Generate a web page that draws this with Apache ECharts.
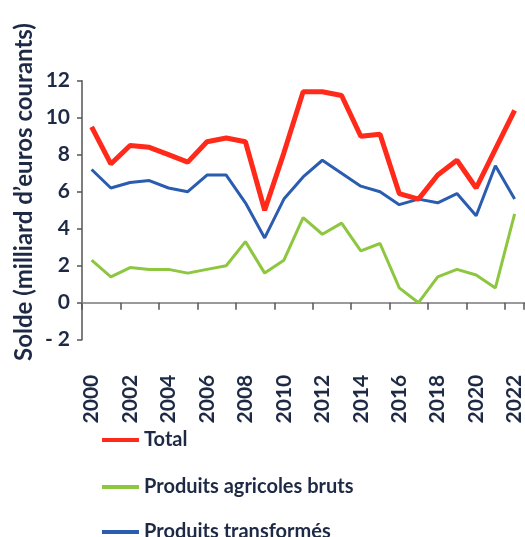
<!DOCTYPE html>
<html>
<head>
<meta charset="utf-8">
<script src="https://cdn.jsdelivr.net/npm/echarts@6/dist/echarts.min.js"></script>
<style>html,body{margin:0;padding:0;background:#fff}#c{width:525px;height:537px}</style>
</head>
<body>
<div id="c"></div>
<script>
const years = ['2000','2001','2002','2003','2004','2005','2006','2007','2008','2009','2010','2011','2012','2013','2014','2015','2016','2017','2018','2019','2020','2021','2022'];
const total = [9.5,7.5,8.5,8.4,8.0,7.6,8.7,8.9,8.7,5.0,8.1,11.4,11.4,11.2,9.0,9.1,5.9,5.6,6.9,7.7,6.2,8.3,10.4];
const agricoles = [2.3,1.4,1.9,1.8,1.8,1.6,1.8,2.0,3.3,1.6,2.3,4.6,3.7,4.3,2.8,3.2,0.8,0.0,1.4,1.8,1.5,0.8,4.8];
const transformes = [7.2,6.2,6.5,6.6,6.2,6.0,6.9,6.9,5.4,3.5,5.6,6.8,7.7,7.0,6.3,6.0,5.3,5.6,5.4,5.9,4.7,7.4,5.6];
const seriesNames = ['Total','Produits agricoles bruts','Produits transformés'];
const yTitle = 'Solde (milliard d’euros courants)';

const FONT = 'Lato';
const TXT = '#1e2a45';
const legendTops = [423, 470, 515];
const legendBase = {
  orient: 'vertical', left: 97,
  itemWidth: 37, itemHeight: 4, icon: 'rect',
  textStyle: { color: TXT, fontFamily: FONT, fontSize: 20, fontWeight: 'bold', lineHeight: 24 }
};
const chart = echarts.init(document.getElementById('c'));
chart.setOption({
  animation: false,
  backgroundColor: '#ffffff',
  grid: { left: 82, right: -5, top: 80.7, bottom: 197.3, containLabel: false },
  xAxis: {
    type: 'category',
    data: years,
    boundaryGap: true,
    axisLine: { onZero: true, lineStyle: { color: '#9a9a9a', width: 2 } },
    axisTick: { show: true, length: 7, inside: false, lineStyle: { color: '#555', width: 1.5 } },
    axisLabel: { interval: 1, rotate: 90, margin: 35, color: TXT, fontFamily: FONT, fontSize: 21, fontWeight: 'bold' },
    splitLine: { show: false }
  },
  yAxis: {
    type: 'value',
    min: -2, max: 12, interval: 2,
    axisLine: { show: true, lineStyle: { color: '#555', width: 1.5 } },
    axisTick: { show: true, length: 5, lineStyle: { color: '#555', width: 1.5 } },
    axisLabel: { margin: 12, color: TXT, fontFamily: FONT, fontSize: 21, fontWeight: 'bold',
      formatter: v => v < 0 ? '- ' + Math.abs(v) : String(v) },
    splitLine: { show: false }
  },
  legend: seriesNames.map((n, i) => Object.assign({}, legendBase, { top: legendTops[i], data: [n] })),
  graphic: [{
    type: 'text', x: 24, y: 192, rotation: Math.PI / 2,
    style: { text: yTitle, fill: TXT, font: 'bold 24px Lato', textAlign: 'center', textVerticalAlign: 'middle' }
  }],
  series: [
    { name: seriesNames[1], type: 'line', data: agricoles, symbol: 'none', lineStyle: { color: '#8dc63f', width: 3 }, itemStyle: { color: '#8dc63f' }, z: 2 },
    { name: seriesNames[2], type: 'line', data: transformes, symbol: 'none', lineStyle: { color: '#2a5cb0', width: 3 }, itemStyle: { color: '#2a5cb0' }, z: 3 },
    { name: seriesNames[0], type: 'line', data: total, symbol: 'none', lineStyle: { color: '#ff2a1a', width: 5 }, itemStyle: { color: '#ff2a1a' }, z: 4 }
  ]
});
</script>
</body>
</html>
